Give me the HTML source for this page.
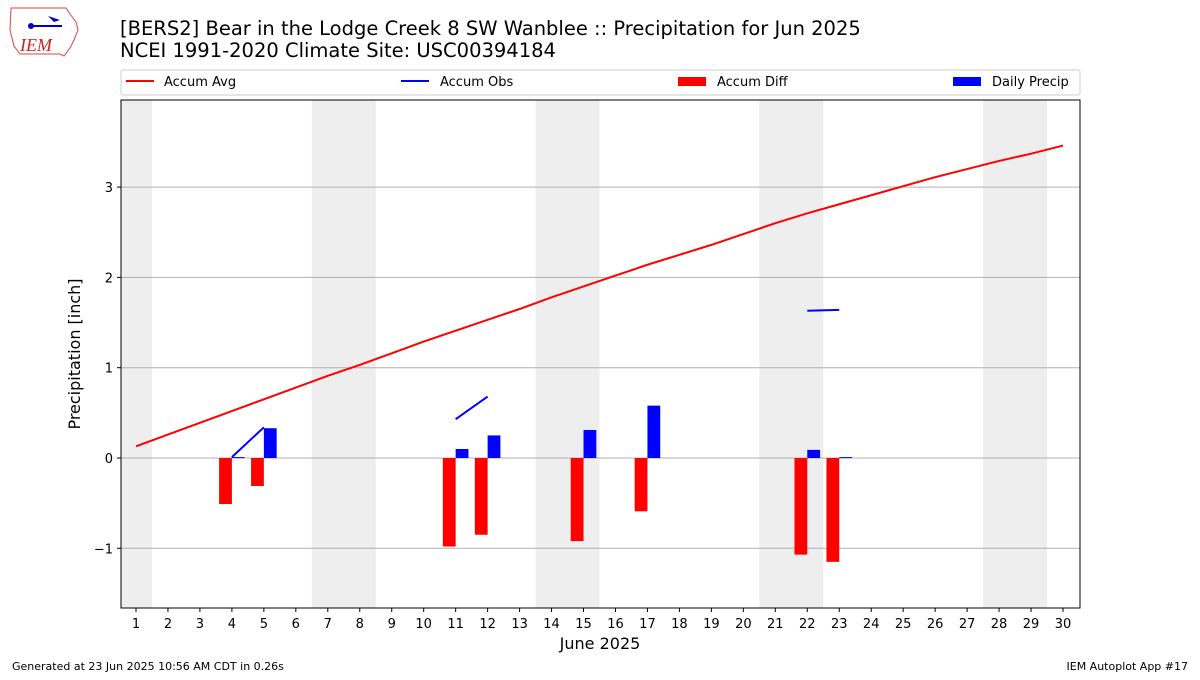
<!DOCTYPE html>
<html><head><meta charset="utf-8"><style>
body{margin:0;background:#fff;font-family:"Liberation Sans","DejaVu Sans",sans-serif}
</style></head><body>
<svg id="c" width="1200" height="675" xmlns="http://www.w3.org/2000/svg" font-family="DejaVu Sans, Liberation Sans, sans-serif">
<g>
<path d="M11,8 L66,8 L70,14 L76,22 L78,30 L74,40 L70,48 L64,56 L60,54 L20,54 L14,46 L10,30 Z" fill="none" stroke="#d44" stroke-width="1"/>
<line x1="30" y1="26" x2="62" y2="26" stroke="#00c" stroke-width="2"/>
<circle cx="31" cy="26" r="3" fill="#00c"/>
<path d="M48,16 L60,20 L54,22 Z" fill="#00c"/>
<text x="20" y="51" font-family="Liberation Serif, serif" font-style="italic" font-size="18" fill="#c22">IEM</text>
</g>
<text x="120" y="35" font-size="19.5">[BERS2] Bear in the Lodge Creek 8 SW Wanblee :: Precipitation for Jun 2025</text>
<text x="120" y="57" font-size="19.5">NCEI 1991-2020 Climate Site: USC00394184</text>
<g>
<rect x="121" y="70" width="959" height="25" fill="#fff" stroke="#ccc" rx="2"/>
<line x1="126" y1="81" x2="154" y2="81" stroke="red" stroke-width="2"/>
<text x="164" y="86" font-size="13">Accum Avg</text>
<line x1="401" y1="81" x2="429" y2="81" stroke="blue" stroke-width="2"/>
<text x="440" y="86" font-size="13">Accum Obs</text>
<rect x="678" y="77" width="28" height="9" fill="red"/>
<text x="717" y="86" font-size="13">Accum Diff</text>
<rect x="953" y="77" width="28" height="9" fill="blue"/>
<text x="992" y="86" font-size="13">Daily Precip</text>
</g>
<g id="plot"></g>
<text transform="translate(80,354) rotate(-90)" text-anchor="middle" font-size="16">Precipitation [inch]</text>
<text x="600" y="649" text-anchor="middle" font-size="16">June 2025</text>
<text x="12" y="670" font-size="11">Generated at 23 Jun 2025 10:56 AM CDT in 0.26s</text>
<text x="1188" y="670" font-size="11" text-anchor="end">IEM Autoplot App #17</text>
</svg>
<script>
const days=[1,2,3,4,5,6,7,8,9,10,11,12,13,14,15,16,17,18,19,20,21,22,23,24,25,26,27,28,29,30];
const accumAvg=[0.13,0.26,0.39,0.52,0.65,0.78,0.91,1.03,1.16,1.29,1.41,1.53,1.65,1.78,1.90,2.02,2.14,2.25,2.36,2.48,2.60,2.71,2.81,2.91,3.01,3.11,3.20,3.29,3.37,3.46];
const accumObs=[null,null,null,0.01,0.34,null,null,null,null,null,0.43,0.68,null,null,null,null,null,null,null,null,null,1.63,1.64,null,null,null,null,null,null,null];
const accumDiff=[null,null,null,-0.51,-0.31,null,null,null,null,null,-0.98,-0.85,null,null,-0.92,null,-0.59,null,null,null,null,-1.07,-1.15,null,null,null,null,null,null,null];
const dailyPrecip=[null,null,null,0.01,0.33,null,null,null,null,null,0.10,0.25,null,null,0.31,null,0.58,null,null,null,null,0.09,0.01,null,null,null,null,null,null,null];
const weekends=[[0.5,1.5],[6.5,8.5],[13.5,15.5],[20.5,22.5],[27.5,29.5]];
const yTicks=[-1,0,1,2,3];
const yTickLabels=["\u22121","0","1","2","3"];
const L=121,R=1080,T=100,B=608;
const x=d=>136+(d-1)*(1063-136)/29;
const y=v=>458-v*90.3;
const ns="http://www.w3.org/2000/svg",g=document.getElementById('plot');
function el(t,a){const e=document.createElementNS(ns,t);for(const k in a)e.setAttribute(k,a[k]);g.appendChild(e);return e;}
weekends.forEach(w=>{const e=el('rect',{x:Math.max(L,x(w[0])),y:T,width:x(w[1])-Math.max(L,x(w[0])),height:B-T,fill:'#eee'});

});
yTicks.forEach((t,i)=>{const l=el('line',{x1:L,x2:R,y1:y(t),y2:y(t),stroke:'#b0b0b0','stroke-width':1});


el('line',{x1:L-4,x2:L,y1:y(t),y2:y(t),stroke:'#000'});
const tx=el('text',{x:L-8,y:y(t)+5,'text-anchor':'end','font-size':13});tx.textContent=yTickLabels[i];

});
const bw=(x(2)-x(1))*0.4;
days.forEach((d,i)=>{
if(accumDiff[i]!=null){const v=accumDiff[i];const r=el('rect',{x:x(d)-bw,y:Math.min(y(0),y(v)),width:bw,height:Math.abs(y(v)-y(0)),fill:'red'});

}
if(dailyPrecip[i]!=null){const v=dailyPrecip[i];const r=el('rect',{x:x(d),y:Math.min(y(0),y(v)),width:bw,height:Math.max(1,Math.abs(y(v)-y(0))),fill:'blue'});

}
el('line',{x1:x(d),x2:x(d),y1:B,y2:B+4,stroke:'#000'});
const tx=el('text',{x:x(d),y:B+20,'text-anchor':'middle','font-size':13});tx.textContent=d;

});
const avg=el('polyline',{points:days.map((d,i)=>x(d)+','+y(accumAvg[i])).join(' '),fill:'none',stroke:'red','stroke-width':2});


let seg=[];
const flush=()=>{if(seg.length>1){const p=el('polyline',{points:seg.join(' '),fill:'none',stroke:'blue','stroke-width':2});

}seg=[];};
days.forEach((d,i)=>{if(accumObs[i]==null)flush();else seg.push(x(d)+','+y(accumObs[i]));});flush();
const fr=el('rect',{x:L,y:T,width:R-L,height:B-T,fill:'none',stroke:'#000','stroke-width':1});


</script>
</body></html>
